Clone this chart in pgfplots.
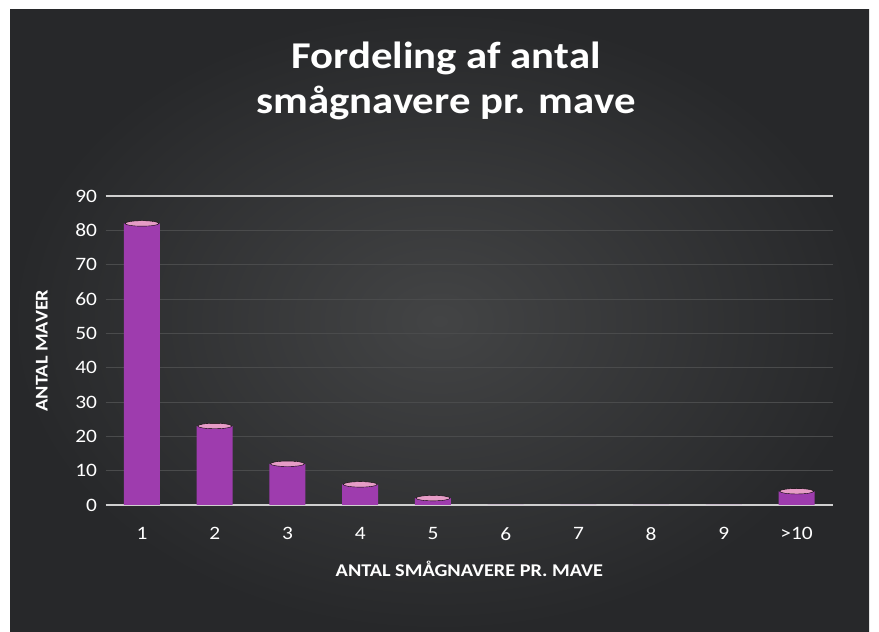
\documentclass[border=0pt]{standalone}
\usepackage{fontspec}
\setmainfont{Carlito}[FakeStretch=1.13]
\usepackage{pgfplots}
\pgfplotsset{compat=1.18}
\definecolor{bgout}{HTML}{27282A}
\definecolor{bgin}{HTML}{434445}
\definecolor{barfill}{HTML}{9E3CAE}
\definecolor{barcap}{HTML}{E69CC6}
\definecolor{gridc}{HTML}{4A4B4C}
\definecolor{axc}{HTML}{CFCFCF}
\begin{document}
\begin{tikzpicture}[x=1bp,y=1bp]
\fill[white] (0,0) rectangle (879,632);
\shade[inner color=bgin, outer color=bgout] (10,0) rectangle (869,622);
\node[text=white, font=\fontsize{38}{45}\selectfont\bfseries, align=center] at (446,551) {Fordeling af antal\\smågnavere pr. mave};
\begin{axis}[
  at={(105.6bp,127bp)}, anchor=south west,
  scale only axis, width=727.4bp, height=309bp,
  xmin=0.5, xmax=10.5, ymin=0, ymax=90,
  ytick={0,10,...,90},
  xtick={1,...,10},
  xticklabels={1,2,3,4,5,6,7,8,9,>10},
  axis line style={draw=none},
  major tick length=0pt,
  ymajorgrids, grid style={gridc, line width=0.8bp},
  extra y ticks={0,90}, extra y tick labels={},
  extra y tick style={grid style={axc, line width=1.8bp}},
  tick label style={text=white, font=\fontsize{19}{22}\selectfont},
  /pgf/number format/assume math mode=true,
  xticklabel style={yshift=-19bp},
  yticklabel style={xshift=-5bp},
  xlabel={ANTAL SMÅGNAVERE PR. MAVE},
  ylabel={ANTAL MAVER},
  label style={text=white, font=\fontsize{18}{21}\selectfont\bfseries},
  xlabel style={yshift=-14bp},
  ylabel style={yshift=21bp},
]
\addplot[ybar, bar width=36bp, fill=barfill, draw=none] coordinates {
(1,82) (2,23) (3,12) (4,6) (5,2) (6,0) (7,0) (8,0) (9,0) (10,4)};
\addplot[only marks, mark=*, mark size=17bp, mark options={fill=barcap, draw=none, yscale=0.16}] coordinates {
(1,82) (2,23) (3,12) (4,6) (5,2) (10,4)};
\end{axis}
\end{tikzpicture}
\end{document}
